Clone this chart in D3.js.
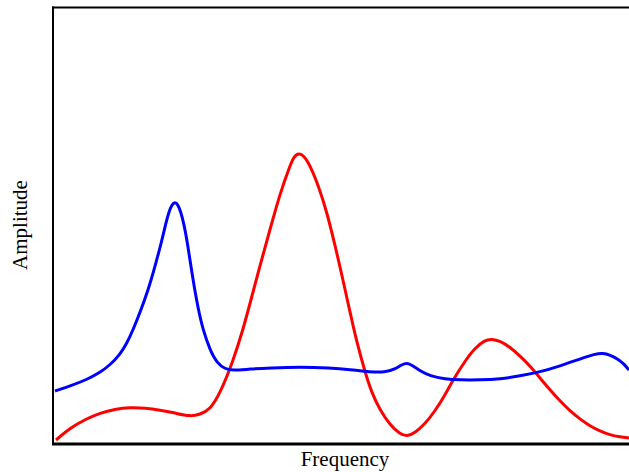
<!DOCTYPE html>
<html>
<head>
<meta charset="utf-8">
<script src="https://cdn.jsdelivr.net/npm/d3@7"></script>
<style>
  html, body { margin: 0; padding: 0; background: #fff; }
  svg { display: block; }
</style>
</head>
<body>
<svg id="chart" width="629" height="472"></svg>
<script>
// Spectrum samples: frequency (arbitrary units) and amplitude for each trace
const frequencyBlue = [2, 17, 33, 47, 57, 67, 74, 80, 87, 95, 102, 109, 113, 116, 119, 122, 125, 128, 131, 134, 140, 145, 150, 157, 164, 172, 180, 197, 217, 247, 277, 297, 317, 332, 342, 349, 354, 359, 367, 377, 392, 407, 427, 447, 467, 487, 507, 527, 542, 550, 557, 565, 571, 576];
const amplitudeBlue = [52.5, 57.5, 63.5, 71, 78.5, 89, 100.5, 113.5, 131, 153, 177, 203.5, 221, 232, 239, 241.5, 239, 231, 219, 203.5, 163.5, 135.5, 113.5, 93.5, 80.5, 74.5, 73, 74.5, 75.5, 76.5, 75.5, 74, 71.5, 71, 74.5, 79, 80.5, 78.5, 72.5, 67.5, 64.5, 63.5, 63.5, 64.5, 67.5, 71.5, 77.5, 84.5, 89.5, 90.5, 88.5, 84.5, 79.5, 73.5];

const frequencyRed = [3, 17, 33, 47, 62, 77, 92, 107, 122, 137, 147, 157, 167, 180, 190, 197, 207, 217, 227, 237, 241, 246, 251, 257, 267, 274, 282, 290, 297, 304, 312, 319, 327, 337, 347, 354, 362, 372, 382, 392, 400, 412, 422, 432, 439, 447, 457, 467, 477, 487, 497, 507, 517, 527, 537, 547, 557, 567, 576];
const amplitudeRed = [3.5, 15.5, 24.5, 30.5, 34.5, 36, 35.5, 33.5, 30.5, 27, 29, 34, 50, 82, 114, 140, 178, 214, 250, 278, 287, 290.5, 287.5, 278.5, 253.5, 230.5, 198.5, 163.5, 131.5, 100.5, 71.5, 50, 33.5, 18.5, 9.5, 7, 10.5, 19.5, 32.5, 48.5, 63.5, 82.5, 95.5, 103.5, 104.5, 102.5, 96.5, 87.5, 77.5, 65.5, 53.5, 42.5, 32.5, 24.5, 17.5, 12.5, 8.5, 6.5, 5.5];

const xLabel = "Frequency";
const yLabel = "Amplitude";

const svg = d3.select("#chart");
const plotLeft = 53, plotTop = 7.5, plotBottom = 443.5, plotRight = 640;

const x = d3.scaleLinear().domain([0, 576]).range([plotLeft, 629]);
const y = d3.scaleLinear().domain([0, 435.5]).range([plotBottom, 8]);

// B-spline through the samples keeps both traces smooth
const line = d3.line()
  .x(d => x(d[0]))
  .y(d => y(d[1]))
  .curve(d3.curveBasis);

const blue = frequencyBlue.map((f, i) => [f, amplitudeBlue[i]]);
const red = frequencyRed.map((f, i) => [f, amplitudeRed[i]]);

svg.append("defs").append("clipPath").attr("id", "plot")
  .append("rect").attr("x", plotLeft).attr("y", plotTop)
  .attr("width", plotRight - plotLeft).attr("height", plotBottom - plotTop);

const g = svg.append("g").attr("clip-path", "url(#plot)");

g.append("path").datum(red)
  .attr("d", line).attr("fill", "none")
  .attr("stroke", "#ff0000").attr("stroke-width", 3).attr("stroke-linejoin", "round");

g.append("path").datum(blue)
  .attr("d", line).attr("fill", "none")
  .attr("stroke", "#0000ff").attr("stroke-width", 3).attr("stroke-linejoin", "round");

// Frame: top border, left axis and a heavier bottom axis
svg.append("line").attr("x1", plotLeft - 1).attr("x2", plotRight).attr("y1", plotTop).attr("y2", plotTop)
  .attr("stroke", "#000").attr("stroke-width", 2);
svg.append("line").attr("x1", plotLeft).attr("x2", plotLeft).attr("y1", plotTop - 1).attr("y2", plotBottom + 1.5)
  .attr("stroke", "#000").attr("stroke-width", 2);
svg.append("line").attr("x1", plotLeft - 1).attr("x2", plotRight).attr("y1", plotBottom + 0.5).attr("y2", plotBottom + 0.5)
  .attr("stroke", "#000").attr("stroke-width", 3);

svg.append("text")
  .attr("x", 345).attr("y", 466)
  .attr("text-anchor", "middle")
  .attr("font-family", "'Liberation Serif', 'Times New Roman', serif")
  .attr("font-size", 21)
  .attr("fill", "#000")
  .text(xLabel);

svg.append("text")
  .attr("transform", "translate(27,225) rotate(-90)")
  .attr("text-anchor", "middle")
  .attr("font-family", "'Liberation Serif', 'Times New Roman', serif")
  .attr("font-size", 21)
  .attr("fill", "#000")
  .text(yLabel);
</script>
</body>
</html>
